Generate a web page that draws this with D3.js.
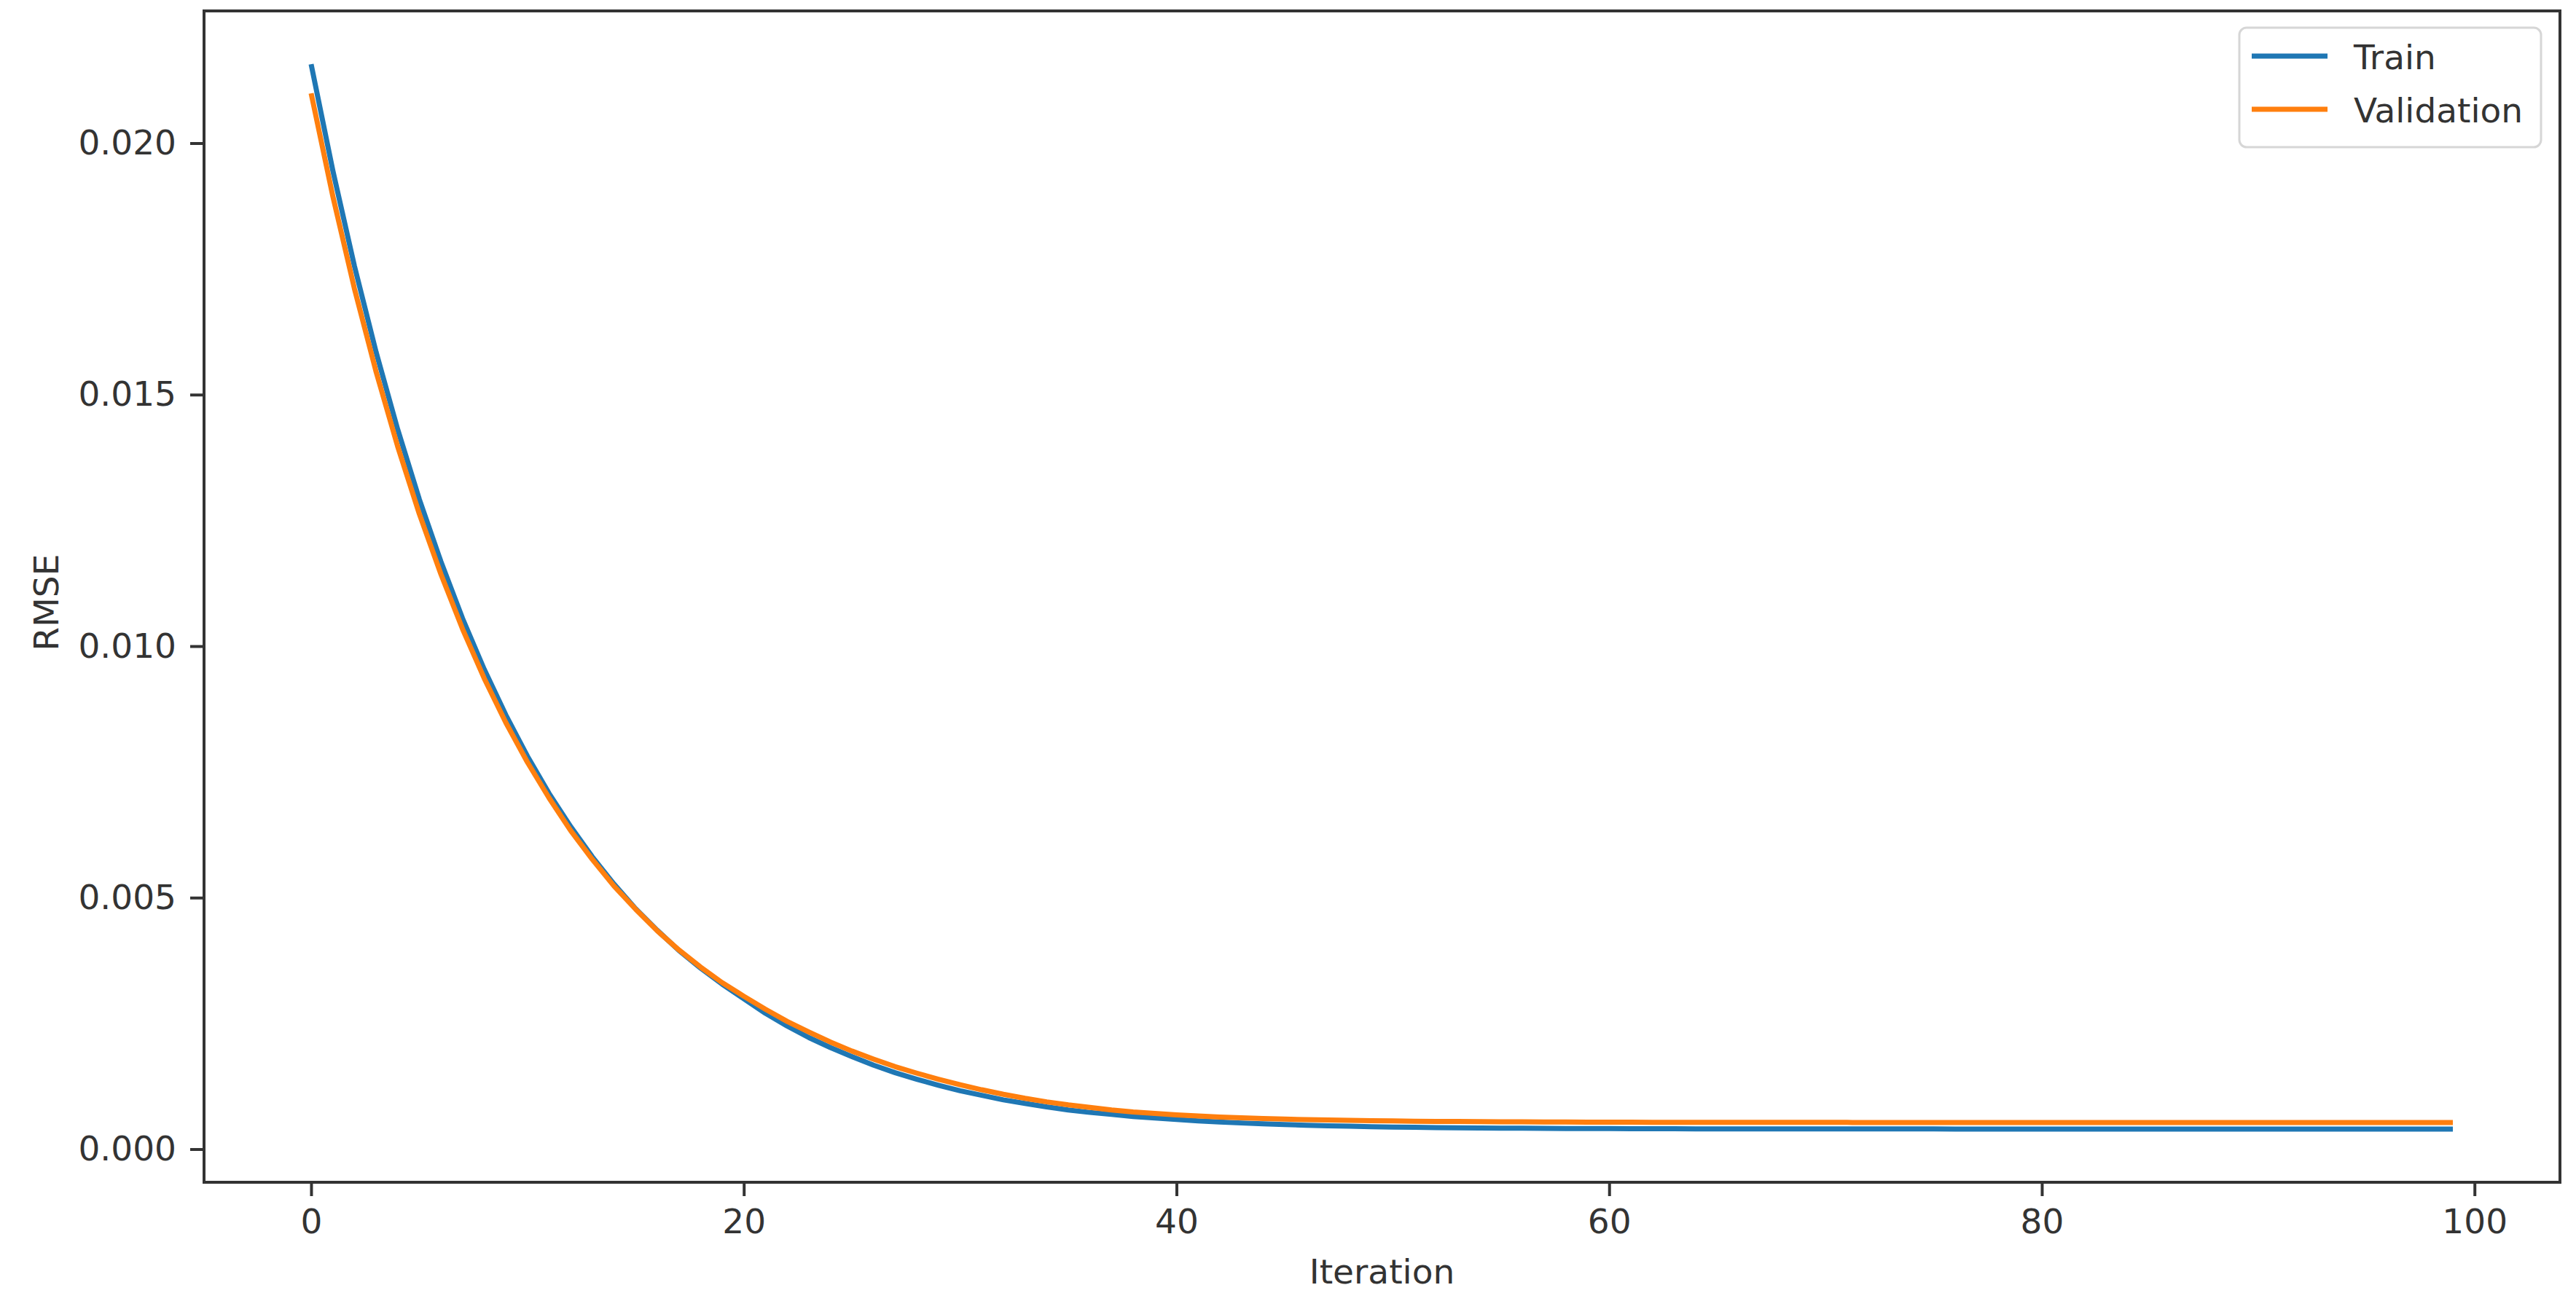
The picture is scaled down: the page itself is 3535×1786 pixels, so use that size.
<!DOCTYPE html>
<html>
<head>
<meta charset="utf-8">
<script src="https://cdn.jsdelivr.net/npm/d3@7"></script>
<style>
  body { margin: 0; background: #fff; }
  text { font-family: "DejaVu Sans", sans-serif; fill: #333; }
</style>
</head>
<body>
<div id="chart"></div>
<script>
// Iterations 0..99
const iterations = d3.range(0, 100);

// Train RMSE per iteration
const trainRmse = [
  0.02157, 0.01946, 0.01756, 0.01585, 0.01431, 0.01292, 0.01168, 0.01055, 0.00954, 0.00863,
  0.00781, 0.00707, 0.00641, 0.00581, 0.00527, 0.00478, 0.00435, 0.00395, 0.00360, 0.00328,
  0.00299, 0.00270, 0.00245, 0.00222, 0.00202, 0.00184, 0.00167, 0.00152, 0.00139, 0.00127,
  0.00116, 0.00107, 0.00098, 0.00091, 0.00084, 0.00078, 0.00073, 0.00069, 0.00065, 0.00062,
  0.000590, 0.000563, 0.000540, 0.000520, 0.000503, 0.000488, 0.000475, 0.000464, 0.000455, 0.000447,
  0.000440, 0.000434, 0.000429, 0.000425, 0.000421, 0.000418, 0.000415, 0.000413, 0.000411, 0.000409,
  0.000408, 0.000407, 0.000406, 0.000405, 0.000404, 0.000404, 0.000403, 0.000403, 0.000402, 0.000402,
  0.000402, 0.000401, 0.000401, 0.000401, 0.000401, 0.000401, 0.000400, 0.000400, 0.000400, 0.000400,
  0.000400, 0.000400, 0.000400, 0.000400, 0.000400, 0.000400, 0.000400, 0.000400, 0.000400, 0.000400,
  0.000400, 0.000400, 0.000400, 0.000400, 0.000400, 0.000400, 0.000400, 0.000400, 0.000400, 0.000400
];

// Validation RMSE per iteration
const validationRmse = [
  0.02099, 0.01895, 0.01711, 0.01546, 0.01397, 0.01263, 0.01143, 0.01034, 0.00936, 0.00848,
  0.00769, 0.00698, 0.00633, 0.00576, 0.00523, 0.00477, 0.00434, 0.00396, 0.00362, 0.00331,
  0.00304, 0.00278, 0.00254, 0.00233, 0.00213, 0.00195, 0.00179, 0.00164, 0.00151, 0.00139,
  0.00128, 0.00118, 0.00109, 0.00101, 0.00094, 0.00088, 0.00083, 0.00078, 0.00074, 0.00071,
  0.000680, 0.000658, 0.000639, 0.000623, 0.000609, 0.000597, 0.000587, 0.000578, 0.000571, 0.000565,
  0.000560, 0.000556, 0.000552, 0.000549, 0.000546, 0.000544, 0.000542, 0.000540, 0.000539, 0.000537,
  0.000536, 0.000535, 0.000534, 0.000534, 0.000533, 0.000533, 0.000532, 0.000532, 0.000531, 0.000531,
  0.000531, 0.000531, 0.000530, 0.000530, 0.000530, 0.000530, 0.000530, 0.000530, 0.000530, 0.000530,
  0.000530, 0.000530, 0.000530, 0.000530, 0.000530, 0.000530, 0.000530, 0.000530, 0.000530, 0.000530,
  0.000530, 0.000530, 0.000530, 0.000530, 0.000530, 0.000530, 0.000530, 0.000530, 0.000530, 0.000530
];

const seriesNames = ["Train", "Validation"];
const seriesColors = ["#1f77b4", "#ff7f0e"];
const xTicks = [0, 20, 40, 60, 80, 100];
const yTicks = [0, 0.005, 0.010, 0.015, 0.020];

function createLossPlot(container) {
  // Chart dimensions
  const width = 3535;
  const height = 1786;
  const margin = { top: 15, right: 22, bottom: 163, left: 280 };
  const innerWidth = width - margin.left - margin.right;
  const innerHeight = height - margin.top - margin.bottom;

  const svg = d3.select(container)
    .append("svg")
    .attr("width", width)
    .attr("height", height)
    .style("display", "block");

  const g = svg.append("g")
    .attr("transform", `translate(${margin.left},${margin.top})`);

  // matplotlib-style 5% padding around the data
  const xMin = d3.min(iterations), xMax = d3.max(iterations);
  const xPad = (xMax - xMin) * 0.05;
  const allY = trainRmse.concat(validationRmse);
  const yMin = d3.min(allY), yMax = d3.max(allY);
  const yPad = (yMax - yMin) * 0.05;

  const xScale = d3.scaleLinear()
    .domain([xMin - xPad, xMax + xPad])
    .range([0, innerWidth]);

  const yScale = d3.scaleLinear()
    .domain([yMin - yPad, yMax + yPad])
    .range([innerHeight, 0]);

  const line = d3.line()
    .x((d, i) => xScale(iterations[i]))
    .y(d => yScale(d));

  // Lines
  [trainRmse, validationRmse].forEach((values, k) => {
    g.append("path")
      .datum(values)
      .attr("fill", "none")
      .attr("stroke", seriesColors[k])
      .attr("stroke-width", 7)
      .attr("stroke-linejoin", "round")
      .attr("d", line);
  });

  // Axes
  const xAxis = g.append("g")
    .attr("transform", `translate(0,${innerHeight})`)
    .call(d3.axisBottom(xScale).tickValues(xTicks).tickFormat(d3.format("d"))
      .tickSize(19).tickPadding(18));

  const yAxis = g.append("g")
    .call(d3.axisLeft(yScale).tickValues(yTicks).tickFormat(d3.format(".3f"))
      .tickSize(19).tickPadding(19));

  [xAxis, yAxis].forEach(ax => {
    ax.select(".domain").remove();
    ax.selectAll(".tick line").attr("stroke", "#333").attr("stroke-width", 4);
    ax.selectAll(".tick text")
      .attr("fill", "#333")
      .style("font-size", "47px")
      .style("font-family", "'DejaVu Sans', sans-serif");
  });

  // Frame (all four spines)
  g.append("rect")
    .attr("width", innerWidth)
    .attr("height", innerHeight)
    .attr("fill", "none")
    .attr("stroke", "#333")
    .attr("stroke-width", 4);

  // Axis labels
  g.append("text")
    .attr("x", innerWidth / 2)
    .attr("y", innerHeight + 139)
    .attr("text-anchor", "middle")
    .style("font-size", "47px")
    .text("Iteration");

  g.append("text")
    .attr("transform", `translate(${80 - margin.left},${innerHeight / 2 + 8}) rotate(-90)`)
    .attr("text-anchor", "middle")
    .style("font-size", "47px")
    .text("RMSE");

  // Legend
  const legend = svg.append("g").attr("transform", "translate(3073,38)");
  legend.append("rect")
    .attr("width", 414)
    .attr("height", 164)
    .attr("rx", 10)
    .attr("fill", "#fff")
    .attr("fill-opacity", 0.8)
    .attr("stroke", "#d6d6d6")
    .attr("stroke-width", 3);

  seriesNames.forEach((name, k) => {
    const y = 39 + k * 73;
    legend.append("line")
      .attr("x1", 17).attr("x2", 121)
      .attr("y1", y).attr("y2", y)
      .attr("stroke", seriesColors[k])
      .attr("stroke-width", 7);
    legend.append("text")
      .attr("x", 157)
      .attr("y", y + 18)
      .style("font-size", "47px")
      .text(name);
  });
}

createLossPlot("#chart");
</script>
</body>
</html>
